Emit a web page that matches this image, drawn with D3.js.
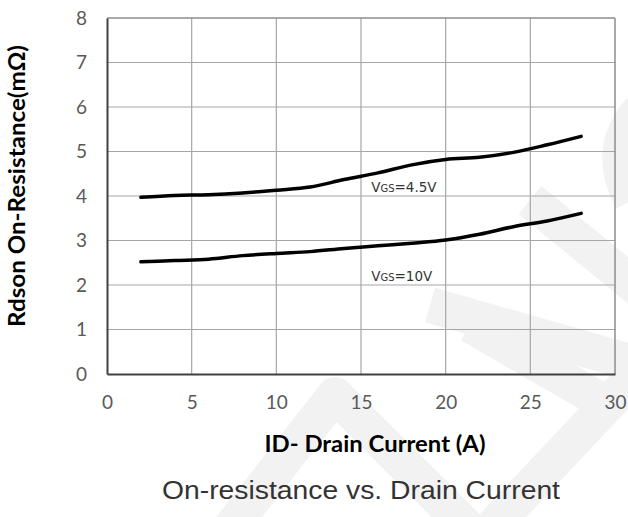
<!DOCTYPE html>
<html>
<head>
<meta charset="utf-8">
<script src="https://cdn.jsdelivr.net/npm/d3@7"></script>
<style>
  body { margin: 0; background: #fff; }
  svg { display: block; }
</style>
</head>
<body>
<script>
const currents = [2, 4, 6, 8, 10, 12, 14, 16, 18, 20, 22, 24, 26, 28];
const rdsVgs45 = [3.97, 4.01, 4.03, 4.07, 4.13, 4.2, 4.37, 4.52, 4.7, 4.82, 4.87, 4.98, 5.15, 5.34];
const rdsVgs10 = [2.52, 2.55, 2.58, 2.66, 2.71, 2.75, 2.82, 2.88, 2.94, 3.01, 3.14, 3.31, 3.44, 3.61];
const xTicks = [0, 5, 10, 15, 20, 25, 30];
const yTicks = [0, 1, 2, 3, 4, 5, 6, 7, 8];
const seriesLabels = [
  { main: 'V', sub: 'GS', rest: '=4.5V', x: 15.6, y: 4.1 },
  { main: 'V', sub: 'GS', rest: '=10V', x: 15.6, y: 2.1 }
];

const w = 628;
const h = 517;
const plotL = 107, plotR = 615, plotT = 18, plotB = 374;

const svg = d3.select('body').append('svg')
  .attr('width', w)
  .attr('height', h);

// faint watermark behind everything
const wm = svg.append('g')
  .attr('fill', 'none')
  .attr('stroke', '#f2f2f2')
  .attr('stroke-width', 36)
  .attr('stroke-linejoin', 'round');
wm.append('path').attr('d', 'M225,535 L335,395 L475,535');
wm.append('path').attr('d', 'M480,540 L640,370');
wm.append('path').attr('d', 'M430,305 L640,365');
wm.append('path').attr('d', 'M470,325 L600,400');
wm.append('path').attr('d', 'M530,200 L640,290');
wm.append('path').attr('d', 'M640,110 Q605,150 632,200');

const x = d3.scaleLinear().domain([0, 30]).range([plotL, plotR]);
const y = d3.scaleLinear().domain([0, 8]).range([plotB, plotT]);

// grid
svg.append('g').selectAll('line').data(xTicks.slice(1, -1)).join('line')
  .attr('x1', d => x(d)).attr('x2', d => x(d))
  .attr('y1', plotT).attr('y2', plotB)
  .attr('stroke', '#a6a6a6').attr('stroke-width', 1.2);
svg.append('g').selectAll('line').data(yTicks.slice(1, -1)).join('line')
  .attr('x1', plotL).attr('x2', plotR)
  .attr('y1', d => y(d)).attr('y2', d => y(d))
  .attr('stroke', '#a6a6a6').attr('stroke-width', 1.2);

// frame: top/right lighter, left/bottom darker
svg.append('line').attr('x1', plotL).attr('x2', plotR).attr('y1', plotT).attr('y2', plotT)
  .attr('stroke', '#8c8c8c').attr('stroke-width', 1.5);
svg.append('line').attr('x1', plotR).attr('x2', plotR).attr('y1', plotT).attr('y2', plotB)
  .attr('stroke', '#8c8c8c').attr('stroke-width', 1.5);

const xAxis = svg.append('g')
  .attr('transform', `translate(0,${plotB})`)
  .call(d3.axisBottom(x).tickValues(xTicks).tickSize(0).tickPadding(22));
const yAxis = svg.append('g')
  .attr('transform', `translate(${plotL},0)`)
  .call(d3.axisLeft(y).tickValues(yTicks).tickSize(0).tickPadding(20));

[xAxis, yAxis].forEach(g => {
  g.select('.domain').attr('stroke', '#404040').attr('stroke-width', 2);
  g.selectAll('text')
    .attr('fill', '#595959')
    .style('font-family', 'Lato, "Open Sans", sans-serif')
    .style('font-size', '19px');
});

// curves
const line = d3.line()
  .x((d, i) => x(currents[i]))
  .y(d => y(d))
  .curve(d3.curveMonotoneX);

[rdsVgs45, rdsVgs10].forEach(s => {
  svg.append('path')
    .datum(s)
    .attr('d', line)
    .attr('fill', 'none')
    .attr('stroke', '#000')
    .attr('stroke-width', 3.5)
    .attr('stroke-linecap', 'round');
});

// series labels
seriesLabels.forEach(l => {
  const t = svg.append('text')
    .attr('x', x(l.x)).attr('y', y(l.y))
    .attr('fill', '#333')
    .style('font-family', '"DejaVu Sans", Verdana, sans-serif')
    .style('font-size', '13.5px');
  t.append('tspan').text(l.main);
  t.append('tspan').style('font-size', '10px').text(l.sub);
  t.append('tspan').text(l.rest);
});

// axis titles
svg.append('text')
  .attr('x', 375).attr('y', 452)
  .attr('text-anchor', 'middle')
  .attr('textLength', 221)
  .attr('lengthAdjust', 'spacingAndGlyphs')
  .style('font-family', 'Lato, sans-serif')
  .style('font-weight', 'bold')
  .style('font-size', '22px')
  .attr('fill', '#000')
  .text('ID- Drain Current (A)');

svg.append('text')
  .attr('transform', `translate(25,186) rotate(-90)`)
  .attr('text-anchor', 'middle')
  .attr('textLength', 282)
  .attr('lengthAdjust', 'spacingAndGlyphs')
  .style('font-family', 'Lato, sans-serif')
  .style('font-weight', 'bold')
  .style('font-size', '22px')
  .attr('fill', '#000')
  .text('Rdson On-Resistance(mΩ)');

// caption
svg.append('text')
  .attr('x', 361).attr('y', 499)
  .attr('text-anchor', 'middle')
  .attr('textLength', 398)
  .attr('lengthAdjust', 'spacingAndGlyphs')
  .style('font-family', '"Liberation Sans", Arial, sans-serif')
  .style('font-size', '25px')
  .attr('fill', '#333')
  .text('On-resistance vs. Drain Current');
</script>
</body>
</html>
